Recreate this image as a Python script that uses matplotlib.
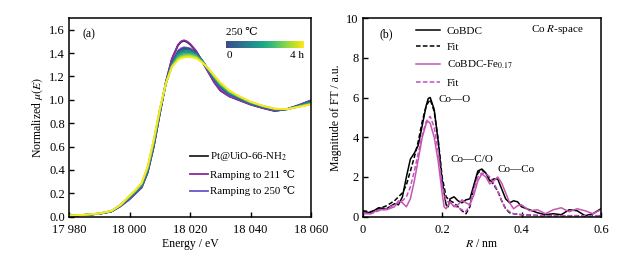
import numpy as np
import matplotlib.pyplot as plt
from matplotlib import cm, colors

plt.rcParams['font.family'] = ['Liberation Serif', 'DejaVu Serif']
plt.rcParams['mathtext.fontset'] = 'stix'
plt.rcParams['font.size'] = 8

# --- (a) XANES -------------------------------------------------------------
energy = [17980, 17985, 17990, 17994, 17997, 18000, 18002, 18004, 18006, 18008,
          18010, 18012, 18014, 18016, 18017, 18018, 18019, 18020, 18021, 18022,
          18024, 18026, 18028, 18030, 18033, 18036, 18040, 18044, 18048, 18052,
          18056, 18060]

mu_pristine = [0.01, 0.015, 0.025, 0.045, 0.09, 0.15, 0.20, 0.25, 0.38, 0.60,
               0.88, 1.15, 1.35, 1.465, 1.495, 1.505, 1.495, 1.475, 1.445, 1.415,
               1.33, 1.24, 1.15, 1.08, 1.03, 1.00, 0.96, 0.93, 0.905, 0.92,
               0.955, 0.995]
mu_ramp211 = [0.01, 0.015, 0.025, 0.045, 0.09, 0.15, 0.20, 0.25, 0.38, 0.60,
              0.88, 1.15, 1.35, 1.47, 1.50, 1.51, 1.50, 1.48, 1.45, 1.42,
              1.33, 1.24, 1.15, 1.08, 1.03, 1.00, 0.96, 0.93, 0.905, 0.92,
              0.955, 0.995]
mu_ramp250 = [0.01, 0.015, 0.025, 0.045, 0.09, 0.15, 0.20, 0.25, 0.38, 0.60,
              0.88, 1.14, 1.32, 1.42, 1.44, 1.45, 1.445, 1.44, 1.42, 1.40,
              1.33, 1.25, 1.17, 1.10, 1.04, 1.01, 0.965, 0.935, 0.91, 0.92,
              0.955, 0.99]

# isothermal at 250 C, 0 -> 4 h
hold_time = [0.0, 0.57, 1.14, 1.71, 2.29, 2.86, 3.43, 4.0]
mu_hold = [
    [0.01, 0.015, 0.025, 0.046, 0.095, 0.16, 0.21, 0.26, 0.39, 0.61,
     0.89, 1.14, 1.31, 1.41, 1.43, 1.44, 1.44, 1.435, 1.42, 1.40,
     1.34, 1.26, 1.18, 1.11, 1.05, 1.015, 0.97, 0.94, 0.915, 0.92,
     0.95, 0.985],
    [0.01, 0.015, 0.026, 0.047, 0.096, 0.163, 0.213, 0.264, 0.395, 0.617,
     0.894, 1.14, 1.305, 1.40, 1.42, 1.428, 1.43, 1.427, 1.413, 1.395,
     1.337, 1.261, 1.184, 1.115, 1.054, 1.018, 0.972, 0.942, 0.917, 0.92,
     0.949, 0.982],
    [0.01, 0.015, 0.026, 0.047, 0.097, 0.166, 0.216, 0.268, 0.40, 0.624,
     0.899, 1.14, 1.30, 1.39, 1.408, 1.416, 1.418, 1.416, 1.405, 1.39,
     1.334, 1.262, 1.188, 1.12, 1.058, 1.021, 0.974, 0.943, 0.918, 0.92,
     0.947, 0.979],
    [0.01, 0.015, 0.027, 0.048, 0.098, 0.169, 0.219, 0.273, 0.408, 0.632,
     0.904, 1.14, 1.295, 1.38, 1.397, 1.405, 1.407, 1.405, 1.396, 1.383,
     1.331, 1.264, 1.192, 1.126, 1.062, 1.024, 0.976, 0.945, 0.92, 0.92,
     0.945, 0.975],
    [0.01, 0.016, 0.027, 0.048, 0.099, 0.172, 0.222, 0.278, 0.415, 0.640,
     0.909, 1.14, 1.29, 1.368, 1.385, 1.393, 1.396, 1.395, 1.388, 1.377,
     1.328, 1.265, 1.196, 1.132, 1.067, 1.027, 0.979, 0.946, 0.921, 0.92,
     0.944, 0.971],
    [0.01, 0.016, 0.027, 0.049, 0.099, 0.175, 0.225, 0.283, 0.421, 0.648,
     0.913, 1.14, 1.287, 1.357, 1.374, 1.382, 1.385, 1.385, 1.379, 1.370,
     1.325, 1.267, 1.201, 1.138, 1.071, 1.030, 0.981, 0.948, 0.923, 0.92,
     0.942, 0.967],
    [0.01, 0.016, 0.028, 0.05, 0.10, 0.178, 0.228, 0.287, 0.427, 0.655,
     0.917, 1.14, 1.283, 1.346, 1.363, 1.372, 1.375, 1.375, 1.369, 1.362,
     1.322, 1.268, 1.205, 1.144, 1.076, 1.033, 0.983, 0.949, 0.924, 0.92,
     0.941, 0.963],
    [0.01, 0.016, 0.028, 0.05, 0.10, 0.18, 0.23, 0.29, 0.43, 0.66,
     0.92, 1.14, 1.28, 1.34, 1.355, 1.362, 1.365, 1.365, 1.36, 1.355,
     1.32, 1.27, 1.21, 1.15, 1.08, 1.035, 0.985, 0.95, 0.925, 0.92,
     0.94, 0.96],
]

e_ticks = [17980, 18000, 18020, 18040, 18060]
e_labels = ['17 980', '18 000', '18 020', '18 040', '18 060']

# --- (b) FT-EXAFS ----------------------------------------------------------
r_cobdc = [0, 0.02, 0.04, 0.06, 0.08, 0.09, 0.10, 0.11, 0.12, 0.13, 0.14, 0.15,
           0.16, 0.165, 0.17, 0.18, 0.19, 0.20, 0.21, 0.215, 0.22, 0.23, 0.24,
           0.25, 0.26, 0.27, 0.28, 0.29, 0.30, 0.31, 0.32, 0.33, 0.34, 0.35,
           0.36, 0.37, 0.38, 0.39, 0.40, 0.42, 0.44, 0.46, 0.48, 0.50, 0.52,
           0.54, 0.56, 0.58, 0.60]
ft_cobdc = [0.25, 0.2, 0.45, 0.4, 0.65, 0.6, 1.0, 2.0, 2.9, 3.2, 3.6, 4.6,
            5.6, 5.95, 6.0, 5.4, 3.8, 1.8, 0.6, 0.5, 0.9, 1.0, 0.8,
            0.7, 0.85, 0.9, 1.6, 2.3, 2.4, 2.2, 1.8, 1.9, 1.9, 1.4,
            0.9, 0.7, 0.8, 0.75, 0.5, 0.35, 0.2, 0.1, 0.15, 0.1, 0.35,
            0.3, 0.05, 0.15, 0.4]

r_fit = [0, 0.02, 0.04, 0.06, 0.08, 0.10, 0.11, 0.12, 0.13, 0.14, 0.15, 0.16,
         0.17, 0.18, 0.19, 0.20, 0.21, 0.22, 0.23, 0.24, 0.25, 0.26, 0.27,
         0.28, 0.29, 0.30, 0.31, 0.32, 0.33, 0.34, 0.35, 0.36, 0.37, 0.38,
         0.40, 0.45, 0.50, 0.55, 0.60]
ft_cobdc_fit = [0.3, 0.25, 0.4, 0.55, 0.8, 1.2, 1.6, 2.3, 3.0, 3.8, 4.8, 5.6,
                5.9, 5.3, 3.9, 2.0, 1.0, 0.8, 0.7, 0.5, 0.3, 0.15, 0.5,
                1.5, 2.2, 2.35, 2.2, 1.9, 1.6, 1.3, 0.8, 0.4, 0.2, 0.15,
                0.1, 0.05, 0.05, 0.05, 0.05]

r_fe = [0, 0.02, 0.04, 0.06, 0.08, 0.09, 0.10, 0.11, 0.12, 0.13, 0.14, 0.15,
        0.16, 0.165, 0.17, 0.18, 0.19, 0.20, 0.205, 0.21, 0.22, 0.23, 0.24,
        0.25, 0.26, 0.27, 0.28, 0.29, 0.30, 0.31, 0.32, 0.33, 0.34, 0.35,
        0.36, 0.37, 0.38, 0.39, 0.40, 0.42, 0.44, 0.46, 0.48, 0.50, 0.52,
        0.54, 0.56, 0.58, 0.60]
ft_fe = [0.15, 0.15, 0.35, 0.35, 0.5, 0.8, 0.7, 0.5, 0.9, 1.8, 2.9, 4.0,
         4.7, 4.8, 4.7, 4.0, 2.8, 1.2, 0.5, 0.4, 0.75, 0.5, 0.6,
         0.85, 0.7, 0.6, 1.1, 1.8, 2.15, 2.0, 1.65, 1.8, 2.0, 1.7,
         1.2, 0.7, 0.4, 0.55, 0.6, 0.3, 0.35, 0.15, 0.35, 0.45, 0.25,
         0.4, 0.3, 0.15, 0.35]
ft_fe_fit = [0.2, 0.15, 0.3, 0.4, 0.6, 0.8, 1.0, 1.5, 2.3, 3.2, 4.1, 4.8,
             5.05, 4.5, 3.3, 1.6, 0.8, 0.7, 0.55, 0.45, 0.35, 0.25, 0.6,
             1.4, 2.0, 2.2, 2.15, 2.0, 1.7, 1.3, 0.8, 0.4, 0.25, 0.15,
             0.1, 0.05, 0.05, 0.05, 0.05]

fig = plt.figure(figsize=(6.42, 2.56), dpi=100)
ax1 = fig.add_axes([0.1075, 0.1535, 0.377, 0.776])
ax2 = fig.add_axes([0.565, 0.1535, 0.371, 0.776])

for ax in (ax1, ax2):
    ax.tick_params(direction='in', length=3.5, width=1.0, labelsize=9, pad=3)
    ax.tick_params(axis='x', pad=5)
    for s in ax.spines.values():
        s.set_linewidth(1.1)

# (a)
cmap = colors.LinearSegmentedColormap.from_list(
    'vir', cm.viridis(np.linspace(0.22, 1.0, 256)))
norm = colors.Normalize(0, 4)

ax1.plot(energy, mu_pristine, color='#222222', lw=1.3, label='Pt@UiO-66-NH$_2$')
ax1.plot(energy, mu_ramp211, color='#8a2b9c', lw=1.3, label='Ramping to 211 ℃')
ax1.plot(energy, mu_ramp250, color='#6a55c4', lw=1.3, label='Ramping to 250 ℃')
for t, mu in zip(hold_time, mu_hold):
    ax1.plot(energy, mu, color=cmap(norm(t)), lw=1.3)

ax1.set_xlim(17980, 18060)
ax1.set_ylim(0, 1.7)
ax1.set_xticks(e_ticks, e_labels)
ax1.set_yticks(np.arange(0, 1.61, 0.2))
ax1.set_xlabel('Energy / eV', fontsize=8.5, labelpad=2)
ax1.set_ylabel('Normalized $\\mu(E)$', fontsize=8.5, labelpad=3)
ax1.text(0.055, 0.92, '(a)', transform=ax1.transAxes, fontsize=8.5, va='center')
ax1.legend(loc='lower left', bbox_to_anchor=(0.48, 0.08), frameon=False,
           fontsize=7.8, handlelength=1.7, handletextpad=0.2, labelspacing=0.6,
           borderaxespad=0.0)

cax = ax1.inset_axes([0.65, 0.85, 0.32, 0.035])
cb = fig.colorbar(cm.ScalarMappable(norm=norm, cmap=cmap), cax=cax,
                  orientation='horizontal')
cb.outline.set_visible(False)
cax.set_xticks([])
ax1.text(0.65, 0.925, '250 ℃', transform=ax1.transAxes, fontsize=8,
         ha='left', va='center')
ax1.text(0.65, 0.81, '0', transform=ax1.transAxes, fontsize=8,
         ha='left', va='center')
ax1.text(0.97, 0.81, '4 h', transform=ax1.transAxes, fontsize=8,
         ha='right', va='center')

# (b)
pink = '#c656b0'
ax2.plot(r_cobdc, ft_cobdc, color='black', lw=1.1, label='CoBDC')
ax2.plot(r_fit, ft_cobdc_fit, color='black', lw=1.1, ls=(0, (3, 1.5)), label='Fit')
ax2.plot(r_fe, ft_fe, color=pink, lw=1.1, label='CoBDC-Fe$_{0.17}$')
ax2.plot(r_fit, ft_fe_fit, color='#c64bc6', lw=1.1, ls=(0, (3, 1.5)), label='Fit')

ax2.set_xlim(0, 0.6)
ax2.set_ylim(0, 10)
ax2.set_xticks([0, 0.2, 0.4, 0.6], ['0', '0.2', '0.4', '0.6'])
ax2.set_yticks([0, 2, 4, 6, 8, 10])
ax2.set_xlabel('$R$ / nm', fontsize=8.5, labelpad=2)
ax2.set_ylabel('Magnitude of FT / a.u.', fontsize=8.5, labelpad=3)
ax2.text(0.07, 0.92, '(b)', transform=ax2.transAxes, fontsize=8.5, va='center')
ax2.text(0.705, 0.94, 'Co $R$-space', transform=ax2.transAxes, fontsize=8,
         va='center')
ax2.legend(loc='upper left', bbox_to_anchor=(0.18, 1.01), frameon=False,
           fontsize=8, handlelength=2.2, handletextpad=0.6, labelspacing=0.6)

ax2.text(0.19, 5.9, 'Co—O', fontsize=8, va='center')
ax2.text(0.22, 2.9, 'Co—C/O', fontsize=8, va='center')
ax2.text(0.34, 2.4, 'Co—Co', fontsize=8, va='center')

fig.savefig('out.png', dpi=100)
